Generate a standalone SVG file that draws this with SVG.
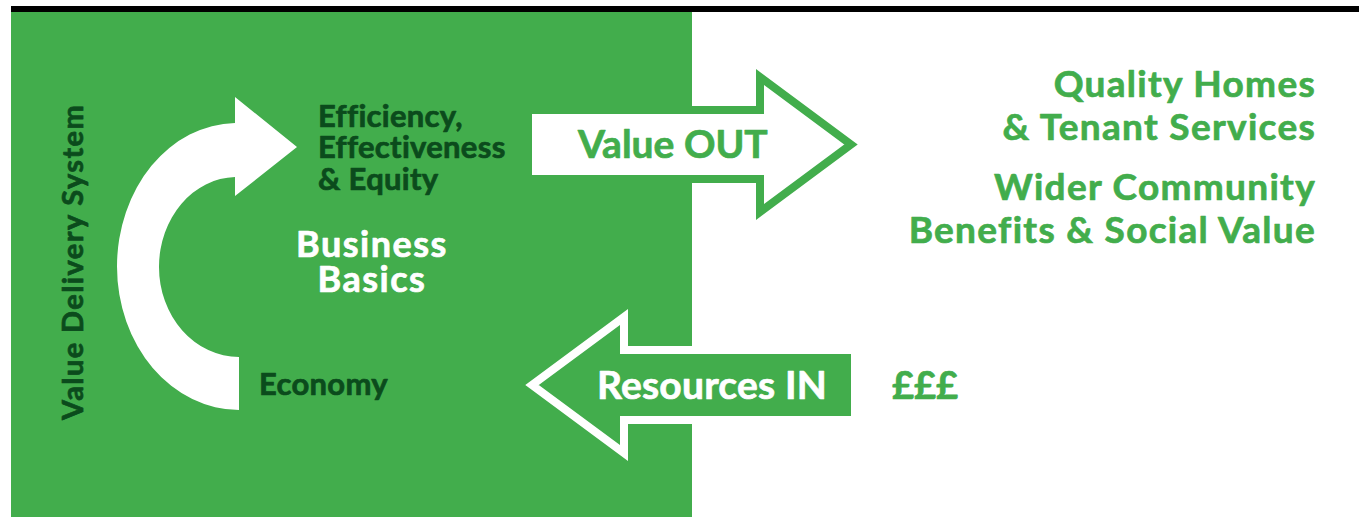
<svg xmlns="http://www.w3.org/2000/svg" width="1360" height="517" viewBox="0 0 1360 517">
<style>
text{font-family:Lato,"Noto Sans","Liberation Sans",sans-serif;font-weight:700;stroke-width:0.7px;stroke-linejoin:round}
.dk{fill:#0b4b1c;stroke:#0b4b1c}
.wh{fill:#ffffff;stroke:#ffffff}
.gr{fill:#42ad4c;stroke:#42ad4c}
.lab{font-size:31px;letter-spacing:0.3px}
.out{font-size:37px;letter-spacing:1.3px}
</style>
<rect x="0" y="0" width="1360" height="517" fill="#ffffff"/>
<g id="background">
<rect x="11" y="6" width="1348" height="6" fill="#000000"/>
<rect x="11" y="12" width="681" height="505" fill="#42ad4c"/>
</g>
<g id="connectors">
<path id="cycle-arrow" d="M239,410 A122,143.5 0 0 1 117,266.5 A120,143.5 0 0 1 235,123 L235,97 L297,147 L235,196 L235,177 A78,90 0 0 0 159,266.5 A80,90 0 0 0 239,357 Z" fill="#ffffff"/>
<polygon id="value-out-arrow" points="528,110 760,110 760,77 851,144.5 760,212 760,179 528,179" fill="#ffffff" stroke="#42ad4c" stroke-width="8"/>
<polygon id="resources-in-arrow" points="855,350 624,350 624,317 532,385 624,453 624,420 855,420" fill="#42ad4c" stroke="#ffffff" stroke-width="8"/>
</g>
<g id="value-delivery-system">
<text class="dk" font-size="29" letter-spacing="1.4" text-anchor="middle" transform="translate(83,262) rotate(-90)">Value Delivery System</text>
</g>
<g id="efficiency">
<text class="dk lab"><tspan x="318" y="127">Efficiency,</tspan><tspan x="318" y="158">Effectiveness</tspan><tspan x="318" y="190">&amp; Equity</tspan></text>
</g>
<g id="business-basics">
<text class="wh" font-size="36" letter-spacing="1.5" text-anchor="middle"><tspan x="372" y="257">Business</tspan><tspan x="372" y="292">Basics</tspan></text>
</g>
<g id="economy">
<text class="dk lab" x="259" y="395">Economy</text>
</g>
<g id="value-out">
<text class="gr" font-size="39" x="578" y="158">Value OUT</text>
</g>
<g id="resources-in">
<text class="wh" font-size="39" letter-spacing="0.2" x="597" y="399">Resources IN</text>
</g>
<g id="money">
<text class="gr" font-size="38" x="892" y="399">£££</text>
</g>
<g id="outcomes">
<text class="gr out" text-anchor="end"><tspan x="1316" y="97">Quality Homes</tspan><tspan x="1316" y="140">&amp; Tenant Services</tspan></text>
<text class="gr out" text-anchor="end"><tspan x="1316" y="200">Wider Community</tspan><tspan x="1316" y="243">Benefits &amp; Social Value</tspan></text>
</g>
</svg>
